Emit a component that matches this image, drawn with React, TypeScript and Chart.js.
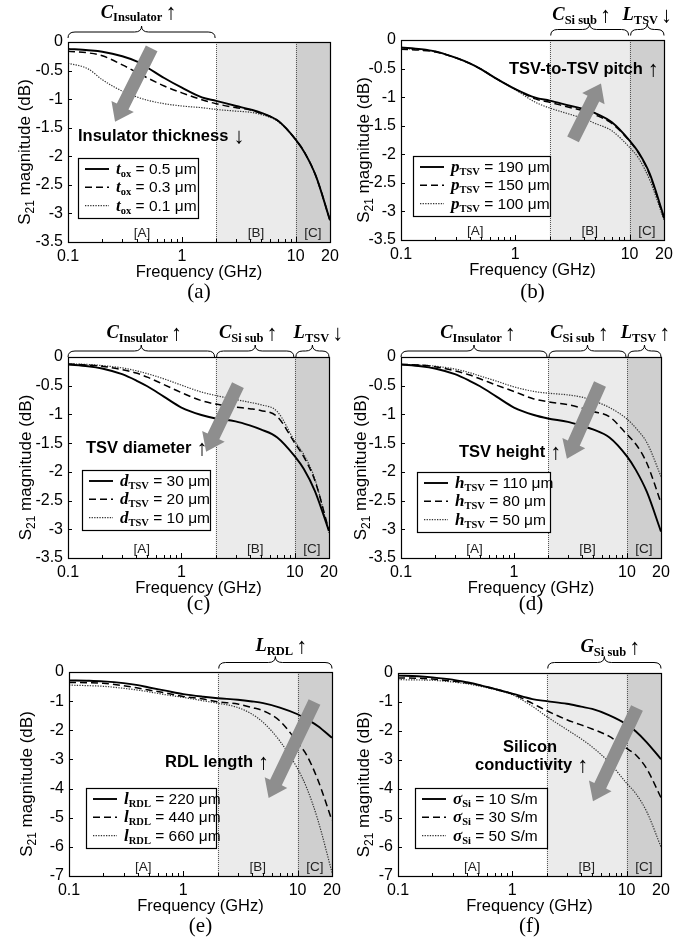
import React, { useEffect, useRef } from "react";
import { Chart, registerables } from "chart.js";
Chart.register(...registerables);

// ---------- data ----------
const FREQ = [0.1, 0.15, 0.2, 0.3, 0.4, 0.5, 0.7, 1, 1.5, 2, 3, 4, 5, 7, 10, 12, 15, 20];
const X_TICKS = [0.1, 1, 10, 20];
const X_MINOR = [0.2, 0.3, 0.4, 0.5, 0.6, 0.7, 0.8, 0.9, 2, 3, 4, 5, 6, 7, 8, 9];
const Y_TICKS_35 = [0, -0.5, -1, -1.5, -2, -2.5, -3, -3.5];
const Y_TICKS_7 = [0, -1, -2, -3, -4, -5, -6, -7];
const REGIONS = [
  { label: "[A]", from: 0.1, to: 2 },
  { label: "[B]", from: 2, to: 10 },
  { label: "[C]", from: 10, to: 20 },
];

// (a) insulator thickness
const A_T05 = [-0.12, -0.145, -0.17, -0.25, -0.34, -0.45, -0.63, -0.8, -0.97, -1.03, -1.12, -1.18, -1.24, -1.38, -1.71, -1.94, -2.34, -3.12];
const A_T03 = [-0.16, -0.19, -0.24, -0.4, -0.53, -0.63, -0.77, -0.89, -1.01, -1.08, -1.15, -1.19, -1.25, -1.38, -1.71, -1.94, -2.34, -3.12];
const A_T01 = [-0.37, -0.47, -0.66, -0.86, -0.96, -1.02, -1.08, -1.12, -1.15, -1.18, -1.21, -1.23, -1.27, -1.39, -1.71, -1.94, -2.34, -3.12];
// (b) TSV pitch
const B_P190 = [-0.13, -0.16, -0.2, -0.31, -0.41, -0.51, -0.69, -0.86, -1.01, -1.06, -1.15, -1.21, -1.28, -1.44, -1.76, -1.97, -2.34, -3.1];
const B_P150 = [-0.16, -0.18, -0.21, -0.31, -0.41, -0.51, -0.69, -0.86, -1.03, -1.09, -1.18, -1.24, -1.31, -1.46, -1.77, -1.98, -2.36, -3.12];
const B_P100 = [-0.15, -0.17, -0.2, -0.31, -0.41, -0.51, -0.69, -0.87, -1.09, -1.19, -1.3, -1.38, -1.46, -1.59, -1.88, -2.07, -2.45, -3.15];
// (c) TSV diameter
const C_D30 = [-0.13, -0.16, -0.2, -0.3, -0.41, -0.51, -0.69, -0.88, -1.01, -1.07, -1.12, -1.19, -1.26, -1.4, -1.73, -1.95, -2.33, -3.03];
const C_D20 = [-0.12, -0.14, -0.16, -0.22, -0.28, -0.35, -0.48, -0.62, -0.76, -0.82, -0.87, -0.9, -0.93, -1.04, -1.5, -1.74, -2.15, -3.02];
const C_D10 = [-0.12, -0.13, -0.15, -0.19, -0.24, -0.29, -0.38, -0.49, -0.61, -0.67, -0.74, -0.79, -0.83, -0.95, -1.47, -1.7, -2.12, -3.06];
// (d) TSV height
const D_H110 = [-0.13, -0.16, -0.2, -0.3, -0.41, -0.51, -0.69, -0.88, -1.01, -1.07, -1.13, -1.2, -1.26, -1.4, -1.73, -1.97, -2.35, -3.04];
const D_H80 = [-0.13, -0.14, -0.17, -0.24, -0.31, -0.38, -0.49, -0.6, -0.73, -0.78, -0.83, -0.89, -0.95, -1.04, -1.35, -1.52, -1.85, -2.54];
const D_H50 = [-0.13, -0.14, -0.16, -0.21, -0.27, -0.33, -0.42, -0.52, -0.6, -0.63, -0.66, -0.7, -0.76, -0.88, -1.08, -1.24, -1.49, -2.08];
// (e) RDL length
const E_L220 = [-0.29, -0.3, -0.32, -0.38, -0.45, -0.53, -0.64, -0.76, -0.85, -0.9, -0.95, -1.01, -1.07, -1.22, -1.45, -1.62, -1.85, -2.26];
const E_L440 = [-0.36, -0.37, -0.39, -0.47, -0.55, -0.62, -0.72, -0.84, -0.93, -1.02, -1.1, -1.22, -1.33, -1.68, -2.42, -2.85, -3.69, -5.1];
const E_L660 = [-0.45, -0.47, -0.49, -0.56, -0.62, -0.68, -0.78, -0.87, -0.99, -1.07, -1.22, -1.45, -1.73, -2.37, -3.32, -3.97, -5.06, -6.88];
// (f) silicon conductivity
const F_S10 = [-0.09, -0.11, -0.15, -0.23, -0.32, -0.4, -0.55, -0.71, -0.9, -0.97, -1.06, -1.16, -1.24, -1.45, -1.77, -2.01, -2.39, -2.97];
const F_S30 = [-0.17, -0.18, -0.21, -0.28, -0.34, -0.41, -0.55, -0.72, -1.05, -1.3, -1.61, -1.79, -1.93, -2.18, -2.6, -2.82, -3.3, -4.3];
const F_S50 = [-0.23, -0.24, -0.25, -0.31, -0.37, -0.44, -0.57, -0.75, -1.15, -1.5, -1.95, -2.27, -2.55, -3.07, -3.8, -4.15, -4.78, -6.0];

const LEG_A = ["0.5 μm", "0.3 μm", "0.1 μm"];
const LEG_B = ["190 μm", "150 μm", "100 μm"];
const LEG_C = ["30 μm", "20 μm", "10 μm"];
const LEG_D = ["110 μm", "80 μm", "50 μm"];
const LEG_E = ["220 μm", "440 μm", "660 μm"];
const LEG_F = ["10 S/m", "30 S/m", "50 S/m"];

// ---------- styling / layout ----------
const W = 685;
const H = 941;
const Y_AXIS_W = 40;
const X_AXIS_H = 24;
const SANS = "'Liberation Sans', Arial, Helvetica, sans-serif";
const SERIF = "'Liberation Serif', 'Times New Roman', serif";
const ARROWF = "'Liberation Serif', 'DejaVu Serif', serif";
const LINE_STYLES = [
  { dash: [] as number[], width: 1.9, color: "#000" },
  { dash: [7, 4], width: 1.5, color: "#000" },
  { dash: [1.3, 1.3], width: 1.2, color: "#333" },
];

type Brace = { from: number; to: number; main: string; sub: string; arrow: string; dx: number };
type Panel = {
  key: string;
  caption: string;
  rect: { l: number; r: number; t: number; b: number };
  yTicks: number[];
  series: number[][];
  sym: string;
  sub: string;
  leg: string[];
  legend: { x: number; y: number; w: number };
  arrow: { from: [number, number]; to: [number, number] };
  note: { t: string; x: number; y: number }[];
  noteArrow: string;
  braces: Brace[];
  braceY: number;
  labelY: number;
  yTitleX: number;
  capY: number;
};

const PANELS: Panel[] = [
  {
    key: "a", caption: "(a)", rect: { l: 68, r: 330, t: 42, b: 242 }, yTicks: Y_TICKS_35,
    series: [A_T05, A_T03, A_T01], sym: "t", sub: "ox", leg: LEG_A,
    legend: { x: 78, y: 158, w: 120 },
    arrow: { from: [0.543, -0.11], to: [0.259, -1.395] },
    note: [{ t: "Insulator thickness", x: 78, y: 141 }], noteArrow: "↓",
    braces: [{ from: 0.1, to: 2, main: "C", sub: "Insulator", arrow: "↑", dx: -3 }],
    braceY: 32, labelY: 17.5, yTitleX: 24, capY: 298,
  },
  {
    key: "b", caption: "(b)", rect: { l: 401, r: 664, t: 40, b: 240 }, yTicks: Y_TICKS_35,
    series: [B_P190, B_P150, B_P100], sym: "p", sub: "TSV", leg: LEG_B,
    legend: { x: 413, y: 156, w: 137 },
    arrow: { from: [3.2, -1.74], to: [5.62, -0.76] },
    note: [{ t: "TSV-to-TSV pitch", x: 509, y: 74 }], noteArrow: "↑",
    braces: [
      { from: 2, to: 10, main: "C", sub: "Si sub", arrow: "↑", dx: -8 },
      { from: 10, to: 20, main: "L", sub: "TSV", arrow: "↓", dx: 0 },
    ],
    braceY: 29.5, labelY: 20, yTitleX: 363, capY: 298,
  },
  {
    key: "c", caption: "(c)", rect: { l: 68, r: 329, t: 357, b: 558 }, yTicks: Y_TICKS_35,
    series: [C_D30, C_D20, C_D10], sym: "d", sub: "TSV", leg: LEG_C,
    legend: { x: 82, y: 470, w: 128 },
    arrow: { from: [3.15, -0.49], to: [1.65, -1.65] },
    note: [{ t: "TSV diameter", x: 86, y: 452.5 }], noteArrow: "↑",
    braces: [
      { from: 0.1, to: 2, main: "C", sub: "Insulator", arrow: "↑", dx: 3 },
      { from: 2, to: 10, main: "C", sub: "Si sub", arrow: "↑", dx: -7 },
      { from: 10, to: 20, main: "L", sub: "TSV", arrow: "↓", dx: 6 },
    ],
    braceY: 351, labelY: 338, yTitleX: 25, capY: 610,
  },
  {
    key: "d", caption: "(d)", rect: { l: 401, r: 661, t: 357, b: 558 }, yTicks: Y_TICKS_35,
    series: [D_H110, D_H80, D_H50], sym: "h", sub: "TSV", leg: LEG_D,
    legend: { x: 417, y: 472, w: 133 },
    arrow: { from: [5.77, -0.47], to: [2.94, -1.77] },
    note: [{ t: "TSV height", x: 459, y: 457 }], noteArrow: "↑",
    braces: [
      { from: 0.1, to: 2, main: "C", sub: "Insulator", arrow: "↑", dx: 4 },
      { from: 2, to: 10, main: "C", sub: "Si sub", arrow: "↑", dx: -8 },
      { from: 10, to: 20, main: "L", sub: "TSV", arrow: "↑", dx: 1 },
    ],
    braceY: 351, labelY: 338, yTitleX: 360, capY: 610,
  },
  {
    key: "e", caption: "(e)", rect: { l: 69, r: 332, t: 672, b: 876 }, yTicks: Y_TICKS_7,
    series: [E_L220, E_L440, E_L660], sym: "l", sub: "RDL", leg: LEG_E,
    legend: { x: 86, y: 788, w: 130 },
    arrow: { from: [14.06, -1.03], to: [5.58, -4.32] },
    note: [{ t: "RDL length", x: 165, y: 767 }], noteArrow: "↑",
    braces: [{ from: 2, to: 20, main: "L", sub: "RDL", arrow: "↑", dx: 6 }],
    braceY: 662.5, labelY: 651, yTitleX: 26, capY: 932,
  },
  {
    key: "f", caption: "(f)", rect: { l: 398, r: 661, t: 673, b: 876 }, yTicks: Y_TICKS_7,
    series: [F_S10, F_S30, F_S50], sym: "σ", sub: "Si", leg: LEG_F,
    legend: { x: 415, y: 788, w: 132 },
    arrow: { from: [12.33, -1.21], to: [5.08, -4.42] },
    note: [{ t: "Silicon", x: 503, y: 751.5 }, { t: "conductivity", x: 475, y: 770 }], noteArrow: "↑",
    braces: [{ from: 2, to: 20, main: "G", sub: "Si sub", arrow: "↑", dx: 6 }],
    braceY: 662.5, labelY: 652, yTitleX: 363, capY: 932,
  },
];

type Run = { t: string; font: string; dy?: number; gap?: number };
function drawRuns(ctx: CanvasRenderingContext2D, runs: Run[], x: number, y: number, align: "left" | "center") {
  let total = 0;
  for (const r of runs) {
    ctx.font = r.font;
    total += ctx.measureText(r.t).width + (r.gap || 0);
  }
  let cx = align === "center" ? x - total / 2 : x;
  ctx.textAlign = "left";
  ctx.textBaseline = "alphabetic";
  for (const r of runs) {
    ctx.font = r.font;
    cx += r.gap || 0;
    ctx.fillText(r.t, cx, y + (r.dy || 0));
    cx += ctx.measureText(r.t).width;
  }
  return total;
}

function drawBrace(ctx: CanvasRenderingContext2D, x1: number, x2: number, y: number, h: number) {
  const xm = (x1 + x2) / 2;
  const r = Math.min(7, (x2 - x1) / 4);
  ctx.beginPath();
  ctx.moveTo(x1, y + h);
  ctx.quadraticCurveTo(x1, y, x1 + r, y);
  ctx.lineTo(xm - r, y);
  ctx.quadraticCurveTo(xm, y, xm, y - h);
  ctx.quadraticCurveTo(xm, y, xm + r, y);
  ctx.lineTo(x2 - r, y);
  ctx.quadraticCurveTo(x2, y, x2, y + h);
  ctx.stroke();
}

function drawFatArrow(ctx: CanvasRenderingContext2D, x1: number, y1: number, x2: number, y2: number) {
  const dx = x2 - x1, dy = y2 - y1;
  const len = Math.hypot(dx, dy);
  const ux = dx / len, uy = dy / len;
  const nx = -uy, ny = ux;
  const sw = 13 / 2, hw = 25 / 2, hl = 17;
  const bx = x2 - ux * hl, by = y2 - uy * hl;
  ctx.beginPath();
  ctx.moveTo(x1 + nx * sw, y1 + ny * sw);
  ctx.lineTo(bx + nx * sw, by + ny * sw);
  ctx.lineTo(bx + nx * hw, by + ny * hw);
  ctx.lineTo(x2, y2);
  ctx.lineTo(bx - nx * hw, by - ny * hw);
  ctx.lineTo(bx - nx * sw, by - ny * sw);
  ctx.lineTo(x1 - nx * sw, y1 - ny * sw);
  ctx.closePath();
  ctx.fill();
}

function makePlugin(p: Panel) {
  return {
    id: "deco_" + p.key,
    beforeDatasetsDraw(chart: any) {
      const { ctx, chartArea: a, scales } = chart;
      const x = scales.x;
      ctx.save();
      const x2 = x.getPixelForValue(2);
      const x10 = x.getPixelForValue(10);
      ctx.fillStyle = "#ebebeb";
      ctx.fillRect(x2, a.top, x10 - x2, a.bottom - a.top);
      ctx.fillStyle = "#cfcfcf";
      ctx.fillRect(x10, a.top, a.right - x10, a.bottom - a.top);
      ctx.strokeStyle = "#555";
      ctx.lineWidth = 1;
      ctx.setLineDash([1, 1]);
      for (const xv of [x2, x10]) {
        ctx.beginPath();
        ctx.moveTo(Math.round(xv) + 0.5, a.top);
        ctx.lineTo(Math.round(xv) + 0.5, a.bottom);
        ctx.stroke();
      }
      ctx.setLineDash([]);
      ctx.fillStyle = "#222";
      ctx.font = `13.5px ${SANS}`;
      ctx.textAlign = "center";
      ctx.textBaseline = "alphabetic";
      for (const r of REGIONS) {
        ctx.fillText(r.label, x.getPixelForValue(Math.sqrt(r.from * r.to)), a.bottom - 5);
      }
      ctx.restore();
    },
    afterDatasetsDraw(chart: any) {
      const { ctx, chartArea: a, scales } = chart;
      const x = scales.x, y = scales.y;
      ctx.save();
      // frame
      ctx.strokeStyle = "#000";
      ctx.lineWidth = 1.2;
      ctx.strokeRect(Math.round(a.left) + 0.5, Math.round(a.top) + 0.5, Math.round(a.right - a.left), Math.round(a.bottom - a.top));
      // inward ticks
      ctx.lineWidth = 1;
      ctx.beginPath();
      for (const v of p.yTicks) {
        const py = Math.round(y.getPixelForValue(v)) + 0.5;
        ctx.moveTo(a.left, py);
        ctx.lineTo(a.left + 4, py);
      }
      for (const v of X_MINOR) {
        const px = Math.round(x.getPixelForValue(v)) + 0.5;
        ctx.moveTo(px, a.bottom);
        ctx.lineTo(px, a.bottom - 3);
      }
      for (const v of [1, 10]) {
        const px = Math.round(x.getPixelForValue(v)) + 0.5;
        ctx.moveTo(px, a.bottom);
        ctx.lineTo(px, a.bottom - 5);
      }
      ctx.stroke();

      // big gray arrow
      ctx.fillStyle = "#8e8e8e";
      drawFatArrow(
        ctx,
        x.getPixelForValue(p.arrow.from[0]), y.getPixelForValue(p.arrow.from[1]),
        x.getPixelForValue(p.arrow.to[0]), y.getPixelForValue(p.arrow.to[1])
      );

      // legend box
      const L = p.legend;
      ctx.fillStyle = "#fff";
      ctx.fillRect(L.x, L.y, L.w, 60);
      ctx.strokeStyle = "#000";
      ctx.lineWidth = 1.2;
      ctx.strokeRect(L.x + 0.5, L.y + 0.5, L.w, 60);
      LINE_STYLES.forEach((st, i) => {
        const yy = L.y + 11 + i * 18.3;
        ctx.strokeStyle = st.color;
        ctx.lineWidth = st.width;
        ctx.setLineDash(st.dash);
        ctx.beginPath();
        ctx.moveTo(L.x + 7, yy);
        ctx.lineTo(L.x + 31, yy);
        ctx.stroke();
        ctx.setLineDash([]);
        ctx.fillStyle = "#000";
        drawRuns(ctx, [
          { t: p.sym, font: `italic bold 17px ${SERIF}` },
          { t: p.sub, font: `bold 10.5px ${SERIF}`, dy: 3 },
          { t: " = " + p.leg[i], font: `15.5px ${SANS}` },
        ], L.x + 38, yy + 5, "left");
      });

      // note text
      ctx.fillStyle = "#000";
      let endX = 0, endY = 0;
      for (const n of p.note) {
        ctx.font = `bold 16.5px ${SANS}`;
        ctx.textAlign = "left";
        ctx.textBaseline = "alphabetic";
        ctx.fillText(n.t, n.x, n.y);
        endX = n.x + ctx.measureText(n.t).width;
        endY = n.y;
      }
      ctx.font = `22px ${ARROWF}`;
      ctx.fillText(p.noteArrow, endX + 5, endY + 2);

      // braces + labels
      ctx.strokeStyle = "#000";
      ctx.lineWidth = 1;
      for (const br of p.braces) {
        const bx1 = x.getPixelForValue(br.from) + (br.from > 0.1 ? 1 : 0);
        const bx2 = x.getPixelForValue(br.to) - (br.to < 20 ? 1 : 0);
        drawBrace(ctx, bx1, bx2, p.braceY, 6);
        drawRuns(ctx, [
          { t: br.main, font: `italic bold 18.5px ${SERIF}` },
          { t: br.sub, font: `bold 12.5px ${SERIF}`, dy: 3.5 },
          { t: br.arrow, font: `22px ${ARROWF}`, gap: 3, dy: 1.5 },
        ], (bx1 + bx2) / 2 + br.dx, p.labelY, "center");
      }

      // axis titles
      ctx.fillStyle = "#000";
      ctx.font = `16.5px ${SANS}`;
      ctx.textAlign = "center";
      ctx.textBaseline = "alphabetic";
      ctx.fillText("Frequency (GHz)", (a.left + a.right) / 2, a.bottom + 35);
      ctx.save();
      ctx.translate(p.yTitleX, (a.top + a.bottom) / 2 + 10);
      ctx.rotate(-Math.PI / 2);
      drawRuns(ctx, [
        { t: "S", font: `17px ${SANS}` },
        { t: "21", font: `12px ${SANS}`, dy: 4 },
        { t: " magnitude (dB)", font: `17px ${SANS}` },
      ], 0, 6, "center");
      ctx.restore();
      // caption
      ctx.font = `21px ${SERIF}`;
      ctx.textAlign = "center";
      ctx.fillText(p.caption, (a.left + a.right) / 2, p.capY);
      ctx.restore();
    },
  };
}

function PanelChart({ p }: { p: Panel }) {
  const ref = useRef<HTMLCanvasElement>(null);
  useEffect(() => {
    const canvas = ref.current;
    if (!canvas) return;
    const chart = new Chart(canvas, {
      type: "line",
      data: {
        datasets: p.series.map((s, i) => ({
          label: p.leg[i],
          data: FREQ.map((f, j) => ({ x: f, y: s[j] })),
          borderColor: LINE_STYLES[i].color,
          borderWidth: LINE_STYLES[i].width,
          borderDash: LINE_STYLES[i].dash,
          pointRadius: 0,
          fill: false,
          cubicInterpolationMode: "monotone" as const,
        })),
      },
      options: {
        animation: false,
        responsive: false,
        maintainAspectRatio: false,
        events: [],
        layout: {
          padding: {
            left: p.rect.l - Y_AXIS_W,
            top: p.rect.t,
            right: W - p.rect.r,
            bottom: H - p.rect.b - X_AXIS_H,
          },
        },
        plugins: { legend: { display: false }, tooltip: { enabled: false }, title: { display: false } },
        scales: {
          x: {
            type: "logarithmic",
            min: 0.1,
            max: 20,
            afterBuildTicks: (s: any) => {
              s.ticks = X_TICKS.map((v) => ({ value: v }));
            },
            afterFit: (s: any) => {
              s.height = X_AXIS_H;
            },
            ticks: {
              autoSkip: false,
              maxRotation: 0,
              padding: 5,
              color: "#000",
              font: { family: SANS, size: 16 },
              callback: (v: any) => String(v),
            },
            grid: { display: false, drawTicks: false },
            border: { display: false },
          },
          y: {
            type: "linear",
            min: p.yTicks[p.yTicks.length - 1],
            max: 0,
            afterBuildTicks: (s: any) => {
              s.ticks = p.yTicks.map((v) => ({ value: v }));
            },
            afterFit: (s: any) => {
              s.width = Y_AXIS_W;
            },
            ticks: {
              padding: 5,
              color: "#000",
              font: { family: SANS, size: 16 },
              callback: (v: any) => String(v),
            },
            grid: { display: false, drawTicks: false },
            border: { display: false },
          },
        },
      } as any,
      plugins: [makePlugin(p)],
    });
    return () => chart.destroy();
  }, [p]);
  return (
    <canvas
      ref={ref}
      width={W}
      height={H}
      style={{ position: "absolute", left: 0, top: 0, width: W, height: H }}
    />
  );
}

export default function App() {
  return (
    <div style={{ position: "absolute", left: 0, top: 0, width: W, height: H, background: "#fff", overflow: "hidden" }}>
      {PANELS.map((p) => (
        <PanelChart key={p.key} p={p} />
      ))}
    </div>
  );
}
